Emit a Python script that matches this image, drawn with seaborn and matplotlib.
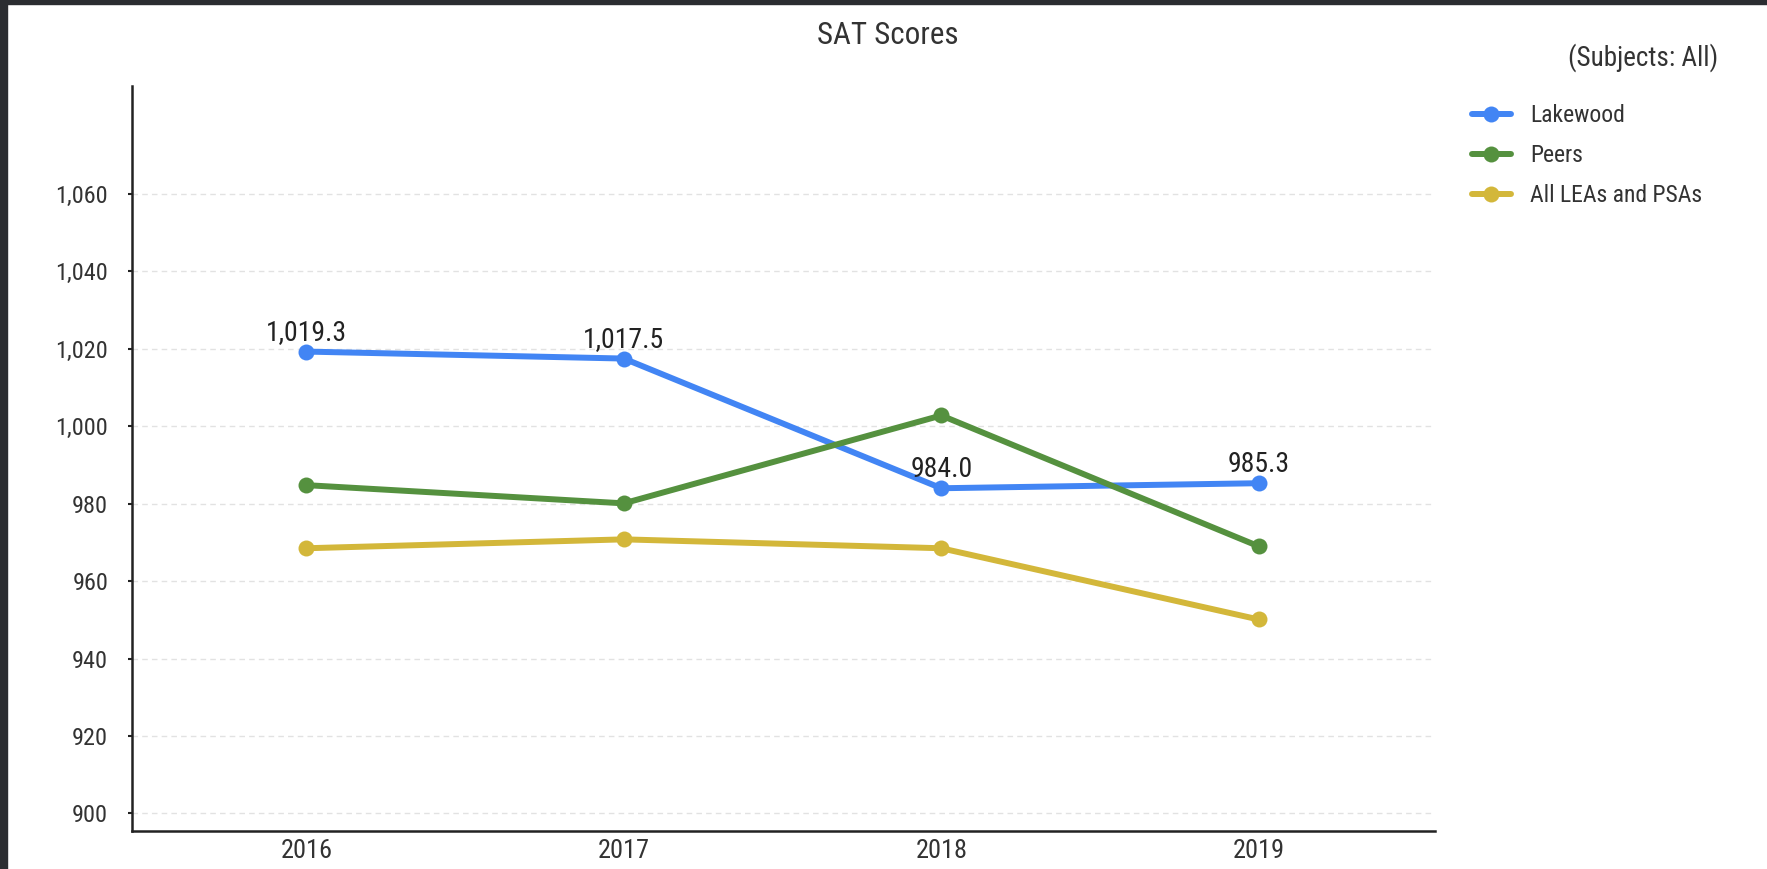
import matplotlib
matplotlib.use("Agg")
import matplotlib.pyplot as plt
from matplotlib import font_manager
from matplotlib.patches import Rectangle
import seaborn as sns
import pandas as pd

years = ["2016", "2017", "2018", "2019"]
lakewood = [1019.3, 1017.5, 984.0, 985.3]
peers = [984.8, 980.1, 1002.8, 969.0]
all_leas = [968.5, 970.8, 968.5, 950.1]
series_names = ["Lakewood", "Peers", "All LEAs and PSAs"]
colors = ["#4285f4", "#55913f", "#d3b73a"]
y_ticks = [900, 920, 940, 960, 980, 1000, 1020, 1040, 1060]
title = "SAT Scores"
subtitle = "(Subjects: All)"

sns.set_theme(style="white")
avail = {f.name for f in font_manager.fontManager.ttflist}
fam = next((f for f in ["Roboto Condensed", "Liberation Sans Narrow", "Roboto", "DejaVu Sans"] if f in avail), "DejaVu Sans")
plt.rcParams["font.family"] = [fam, "DejaVu Sans"]
txt = "#333333"

rows = []
for name, vals in zip(series_names, [lakewood, peers, all_leas]):
    for i, (y, v) in enumerate(zip(years, vals)):
        rows.append({"idx": i, "year": y, "score": v, "series": name})
df = pd.DataFrame(rows)

W, H = 1767, 869
LW, MS = 4.3, 11.5
fig = plt.figure(figsize=(W / 100, H / 100), dpi=100)
fig.patch.set_facecolor("white")
ax = fig.add_axes([131.8 / W, 1 - 830.5 / H, (1434.6 - 131.8) / W, (830.5 - 85.6) / H])

sns.lineplot(data=df, x="idx", y="score", hue="series", hue_order=series_names,
             palette=colors, marker="o", markersize=MS, markeredgewidth=0,
             linewidth=LW, ax=ax, legend=False, zorder=3)

ax.set_xlim(-0.55, 3.554)
ax.set_ylim(895.6, 1088)
ax.set_xticks(range(len(years)))
ax.set_xticklabels(years)
ax.set_yticks(y_ticks)
ax.set_yticklabels([f"{v:,}" for v in y_ticks])
ax.set_xlabel("")
ax.set_ylabel("")
ax.tick_params(axis="x", length=0, pad=6, labelsize=19, labelcolor=txt)
ax.tick_params(axis="y", length=3, width=1.5, color="#222222", pad=14, labelsize=17.5, labelcolor=txt, left=True)
for s in ["top", "right"]:
    ax.spines[s].set_visible(False)
for s in ["left", "bottom"]:
    ax.spines[s].set_color("#222222")
    ax.spines[s].set_linewidth(1.8)
ax.yaxis.grid(True, linestyle=(0, (4, 3)), color="#e2e2e2", linewidth=1.0)
ax.xaxis.grid(False)
ax.set_axisbelow(True)

for i, v in enumerate(lakewood):
    ax.annotate(f"{v:,.1f}", (i, v), xytext=(0, 8), textcoords="offset points",
                ha="center", va="baseline", fontsize=20, color="#222222", zorder=5)

fig.text(888 / W, 1 - 35 / H, title, ha="center", va="center", fontsize=22.4, color=txt)
fig.text(1718 / W, 1 - 58 / H, subtitle, ha="right", va="center", fontsize=19.5, color=txt)

handles = [plt.Line2D([], [], color=c, marker="o", markersize=MS, markeredgewidth=0, linewidth=LW) for c in colors]
fig.legend(handles, series_names, loc="upper left", bbox_to_anchor=(1472 / W, 1 - 104 / H),
           frameon=False, fontsize=17, handlelength=1.65, handletextpad=0.8,
           labelspacing=0.72, borderaxespad=0, borderpad=0, labelcolor=txt)

fig.patches.append(Rectangle((0, 1 - 4 / H), 1, 4 / H, transform=fig.transFigure, color="#2b2d31", zorder=10))
fig.patches.append(Rectangle((0, 0), 7 / W, 1, transform=fig.transFigure, color="#2b2d31", zorder=10))

fig.savefig("out.png", dpi=100, facecolor="white")
